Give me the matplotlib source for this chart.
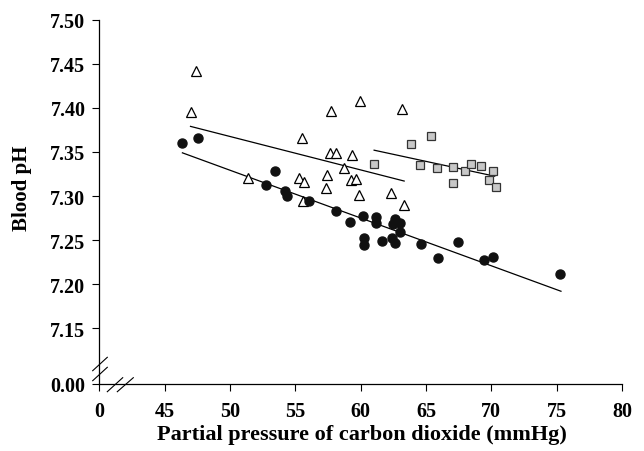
import numpy as np
import matplotlib
matplotlib.use('Agg')
import matplotlib.pyplot as plt
from matplotlib.lines import Line2D

plt.rcParams['font.family'] = ['Liberation Serif', 'DejaVu Serif']
plt.rcParams['font.weight'] = 'bold'

# filled circles
circ_x = [46.33, 47.56, 53.46, 52.77, 54.18, 54.36, 56.08, 58.10, 59.21, 60.21, 61.20, 61.20,
          62.62, 62.49, 63.03, 63.03, 60.28, 60.28, 61.62, 62.38, 62.62, 64.60, 65.92, 67.44,
          69.44, 70.15, 75.28]
circ_y = [7.360, 7.366, 7.328, 7.312, 7.306, 7.300, 7.294, 7.283, 7.271, 7.277, 7.276, 7.269,
          7.274, 7.268, 7.269, 7.259, 7.252, 7.245, 7.249, 7.252, 7.247, 7.246, 7.230, 7.248,
          7.228, 7.231, 7.211]

# open triangles
tri_x = [47.38, 46.98, 55.51, 51.36, 55.31, 55.64, 55.60, 57.75, 59.95, 63.13, 57.69, 58.10,
         59.33, 58.72, 57.44, 59.23, 59.64, 57.33, 59.85, 62.33, 63.33]
tri_y = [7.442, 7.395, 7.366, 7.320, 7.320, 7.316, 7.294, 7.397, 7.408, 7.399, 7.349, 7.349,
         7.346, 7.332, 7.324, 7.318, 7.319, 7.309, 7.301, 7.303, 7.290]

# grey squares
sq_x = [65.38, 63.85, 61.03, 64.54, 65.85, 67.08, 67.95, 68.46, 69.18, 70.15, 69.79, 70.36, 67.08]
sq_y = [7.368, 7.359, 7.336, 7.335, 7.332, 7.333, 7.328, 7.336, 7.334, 7.328, 7.318, 7.310, 7.315]

# regression lines (end points)
circ_fit_x, circ_fit_y = [46.36, 75.33], [7.349, 7.192]
tri_fit_x, tri_fit_y = [46.98, 63.33], [7.379, 7.317]
sq_fit_x, sq_fit_y = [61.03, 70.26], [7.352, 7.3225]

# broken axes: 0 sits at these positions
X_ZERO = 40.0
Y_ZERO = 7.0868
xtick_vals = [X_ZERO, 45, 50, 55, 60, 65, 70, 75, 80]
xtick_labels = ['0', '45', '50', '55', '60', '65', '70', '75', '80']
ytick_vals = [Y_ZERO, 7.15, 7.20, 7.25, 7.30, 7.35, 7.40, 7.45, 7.50]
ytick_labels = ['0.00', '7.15', '7.20', '7.25', '7.30', '7.35', '7.40', '7.45', '7.50']

W, H = 644, 452
fig = plt.figure(figsize=(W / 100, H / 100), dpi=100)
ax = fig.add_axes([99.3 / W, (H - 385) / H, 522.7 / W, 364.3 / H])

ax.plot(circ_fit_x, circ_fit_y, color='black', lw=0.9)
ax.plot(tri_fit_x, tri_fit_y, color='black', lw=0.9)
ax.plot(sq_fit_x, sq_fit_y, color='black', lw=0.9)

ax.plot(tri_x, tri_y, linestyle='none', marker='^', ms=7.5, mfc='white', mec='black', mew=0.9)
ax.plot(sq_x, sq_y, linestyle='none', marker='s', ms=6.2, mfc='#c8c8c8', mec='#333333', mew=0.9)
ax.plot(circ_x, circ_y, linestyle='none', marker='o', ms=6.5, mfc='#111111', mec='#111111')

ax.set_xlim(X_ZERO, 80)
ax.set_ylim(Y_ZERO, 7.50)
ax.set_xticks(xtick_vals)
ax.set_xticklabels(xtick_labels)
ax.set_yticks(ytick_vals)
ax.set_yticklabels(ytick_labels)
ax.tick_params(direction='out', length=5, width=0.8, labelsize=14.5)
ax.tick_params(axis='x', pad=7)
ax.tick_params(axis='y', pad=5)
for s in ['top', 'right']:
    ax.spines[s].set_visible(False)
for s in ['left', 'bottom']:
    ax.spines[s].set_linewidth(0.9)

ax.set_xlabel('Partial pressure of carbon dioxide (mmHg)', fontsize=16, fontweight='bold', va='center')
ax.set_ylabel('Blood pH', fontsize=15, fontweight='bold', va='center')
ax.xaxis.set_label_coords(0.5026, -(435 - 385) / 364.3)
ax.yaxis.set_label_coords((22 - 99.3) / 522.7, (385 - 188) / 364.3)

# break marks (figure pixel coordinates)
def brk(x0, y0, x1, y1):
    fig.add_artist(Line2D([x0 / W, x1 / W], [1 - y0 / H, 1 - y1 / H],
                          transform=fig.transFigure, color='black', lw=0.8))

brk(92.7, 371.7, 107.3, 358.3)
brk(92.7, 381.7, 107.3, 368.3)
brk(107.3, 392.7, 122.7, 378.7)
brk(117.3, 392.7, 133.3, 378.7)

fig.savefig('out.png', dpi=100)
